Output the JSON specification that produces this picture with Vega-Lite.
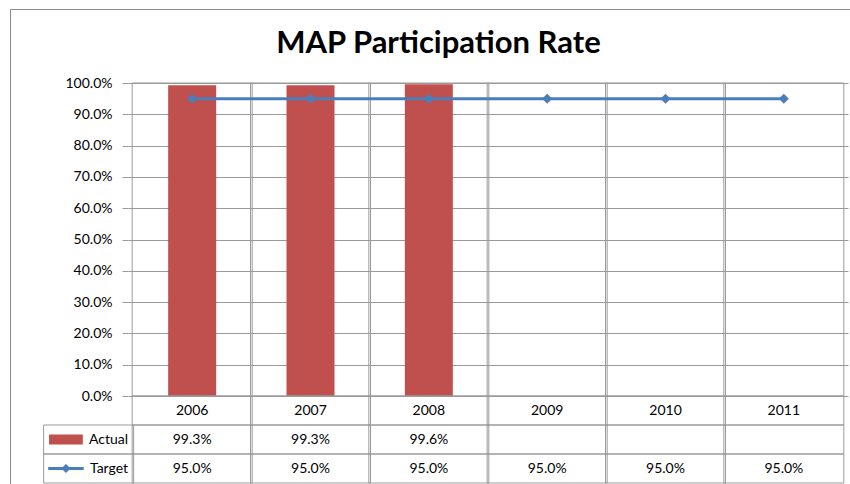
{
  "$schema": "https://vega.github.io/schema/vega-lite/v6.json",
  "width": 845,
  "height": 480,
  "autosize": {"type": "none"},
  "padding": {"left": 10, "top": 9, "right": 0, "bottom": 0},
  "background": "white",
  "config": {
    "view": {"stroke": "#8C8C8C", "strokeWidth": 1},
    "font": "Lato",
    "text": {"font": "Lato", "fontSize": 14, "color": "black"},
    "axis": {"labelFont": "Lato"}
  },
  "title": {
    "text": "MAP Participation Rate",
    "font": "Lato",
    "fontSize": 31,
    "fontWeight": "bold",
    "color": "black",
    "anchor": "middle",
    "frame": "group",
    "baseline": "alphabetic",
    "offset": -75,
    "dx": 6
  },
  "datasets": {
    "rates": [
      {"year": 2006, "actual": 0.993, "target": 0.95},
      {"year": 2007, "actual": 0.993, "target": 0.95},
      {"year": 2008, "actual": 0.996, "target": 0.95},
      {"year": 2009, "actual": null, "target": 0.95},
      {"year": 2010, "actual": null, "target": 0.95},
      {"year": 2011, "actual": null, "target": 0.95}
    ],
    "series": [
      {"row": "actual", "name": "Actual"},
      {"row": "target", "name": "Target"}
    ]
  },
  "resolve": {"scale": {"y": "independent"}, "axis": {"y": "independent"}},
  "layer": [
    {
      "data": {"name": "rates"},
      "mark": {"type": "bar", "color": "#C0504D", "width": 48},
      "encoding": {
        "x": {
          "field": "year", "type": "quantitative",
          "scale": {"domain": [2005.5, 2011.5], "range": [118, 838], "nice": false, "zero": false},
          "axis": null
        },
        "y": {
          "field": "actual", "type": "quantitative",
          "scale": {"domain": [0, 1], "range": [387, 74], "nice": false, "zero": true},
          "axis": {
            "values": [0, 0.1, 0.2, 0.3, 0.4, 0.5, 0.6, 0.7, 0.8, 0.9, 1],
            "format": ".1%",
            "orient": "left",
            "offset": -118,
            "grid": true, "gridColor": "#9A9A9A", "gridWidth": 1,
            "domain": false,
            "ticks": true, "tickSize": 6, "tickColor": "#9A9A9A",
            "labelPadding": 10, "labelFontSize": 14, "labelColor": "black",
            "title": null
          }
        }
      }
    },
    {
      "data": {"name": "rates"},
      "mark": {"type": "rect", "width": 120, "filled": false, "color": "#9A9A9A", "strokeWidth": 1},
      "encoding": {
        "x": {"field": "year", "type": "quantitative", "axis": null},
        "y": {"datum": 0, "type": "quantitative", "axis": null,
              "scale": {"domain": [0, 1], "range": [387, 74], "nice": false, "zero": true}},
        "y2": {"datum": 1}
      }
    },
    {
      "data": {"name": "rates"},
      "mark": {"type": "line", "color": "#4A7EBB", "strokeWidth": 3},
      "encoding": {
        "x": {"field": "year", "type": "quantitative", "axis": null},
        "y": {"field": "target", "type": "quantitative", "axis": null,
              "scale": {"domain": [0, 1], "range": [387, 74], "nice": false, "zero": true}}
      }
    },
    {
      "data": {"name": "rates"},
      "mark": {"type": "point", "shape": "diamond", "filled": true, "size": 100, "color": "#4A7EBB", "opacity": 1},
      "encoding": {
        "x": {"field": "year", "type": "quantitative", "axis": null},
        "y": {"field": "target", "type": "quantitative", "axis": null,
              "scale": {"domain": [0, 1], "range": [387, 74], "nice": false, "zero": true}}
      }
    },
    {
      "data": {"name": "rates"},
      "transform": [{"fold": ["year", "actual", "target"], "as": ["row", "v"]}],
      "mark": {"type": "rect", "width": 120, "filled": false, "color": "#9A9A9A", "strokeWidth": 1},
      "encoding": {
        "x": {"field": "year", "type": "quantitative", "axis": null},
        "y": {
          "field": "row", "type": "nominal", "axis": null,
          "scale": {"domain": ["year", "actual", "target"], "range": [387, 474], "paddingInner": 0, "paddingOuter": 0}
        }
      }
    },
    {
      "data": {"name": "rates"},
      "mark": {"type": "text", "fontSize": 14},
      "encoding": {
        "x": {"field": "year", "type": "quantitative", "axis": null},
        "y": {"datum": "year", "type": "nominal", "axis": null,
              "scale": {"domain": ["year", "actual", "target"], "range": [387, 474], "paddingInner": 0, "paddingOuter": 0}},
        "text": {"field": "year", "type": "nominal"}
      }
    },
    {
      "data": {"name": "rates"},
      "transform": [
        {"fold": ["actual", "target"], "as": ["row", "v"]},
        {"filter": "datum.v != null"}
      ],
      "mark": {"type": "text", "fontSize": 14},
      "encoding": {
        "x": {"field": "year", "type": "quantitative", "axis": null},
        "y": {"field": "row", "type": "nominal", "axis": null,
              "scale": {"domain": ["year", "actual", "target"], "range": [387, 474], "paddingInner": 0, "paddingOuter": 0}},
        "text": {"field": "v", "type": "quantitative", "format": ".1%"}
      }
    },
    {
      "data": {"name": "series"},
      "mark": {"type": "rect", "width": 90, "filled": false, "color": "#9A9A9A", "strokeWidth": 1},
      "encoding": {
        "x": {"datum": 2005.125, "type": "quantitative", "axis": null},
        "y": {"field": "row", "type": "nominal", "axis": null,
              "scale": {"domain": ["year", "actual", "target"], "range": [387, 474], "paddingInner": 0, "paddingOuter": 0}}
      }
    },
    {
      "data": {"name": "series"},
      "mark": {"type": "text", "fontSize": 14, "align": "right"},
      "encoding": {
        "x": {"datum": 2005.4583, "type": "quantitative", "axis": null},
        "y": {"field": "row", "type": "nominal", "axis": null,
              "scale": {"domain": ["year", "actual", "target"], "range": [387, 474], "paddingInner": 0, "paddingOuter": 0}},
        "text": {"field": "name", "type": "nominal"}
      }
    },
    {
      "data": {"name": "series"},
      "transform": [{"filter": "datum.row == 'actual'"}],
      "mark": {"type": "point", "shape": "M-1,-0.3H1V0.3H-1Z", "filled": true, "size": 1140, "color": "#C0504D", "opacity": 1},
      "encoding": {
        "x": {"datum": 2004.9333, "type": "quantitative", "axis": null},
        "y": {"field": "row", "type": "nominal", "axis": null,
              "scale": {"domain": ["year", "actual", "target"], "range": [387, 474], "paddingInner": 0, "paddingOuter": 0}}
      }
    },
    {
      "data": {"name": "series"},
      "transform": [{"filter": "datum.row == 'target'"}],
      "mark": {"type": "point", "shape": "M-1,0H1", "filled": false, "size": 1260, "color": "#4A7EBB", "strokeWidth": 3, "opacity": 1},
      "encoding": {
        "x": {"datum": 2004.9333, "type": "quantitative", "axis": null},
        "y": {"field": "row", "type": "nominal", "axis": null,
              "scale": {"domain": ["year", "actual", "target"], "range": [387, 474], "paddingInner": 0, "paddingOuter": 0}}
      }
    },
    {
      "data": {"name": "series"},
      "transform": [{"filter": "datum.row == 'target'"}],
      "mark": {"type": "point", "shape": "diamond", "filled": true, "size": 85, "color": "#4A7EBB", "opacity": 1},
      "encoding": {
        "x": {"datum": 2004.9333, "type": "quantitative", "axis": null},
        "y": {"field": "row", "type": "nominal", "axis": null,
              "scale": {"domain": ["year", "actual", "target"], "range": [387, 474], "paddingInner": 0, "paddingOuter": 0}}
      }
    }
  ]
}
